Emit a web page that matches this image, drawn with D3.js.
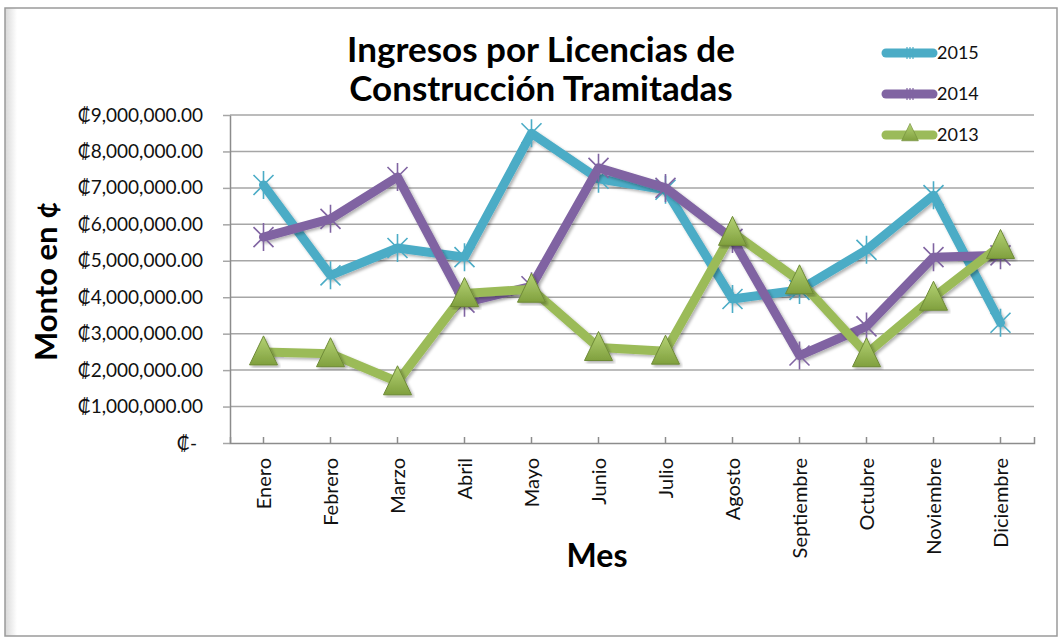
<!DOCTYPE html>
<html>
<head>
<meta charset="utf-8">
<script src="https://cdn.jsdelivr.net/npm/d3@7"></script>
<style>
  body { margin: 0; background: #fff; }
  svg { display: block; font-family: Lato, "Open Sans", sans-serif; }
</style>
</head>
<body>
<svg id="svg" width="1061" height="640"></svg>
<script>
const months = ['Enero', 'Febrero', 'Marzo', 'Abril', 'Mayo', 'Junio', 'Julio', 'Agosto', 'Septiembre', 'Octubre', 'Noviembre', 'Diciembre']
const values2015 = [7080000, 4600000, 5350000, 5100000, 8500000, 7250000, 6950000, 3950000, 4200000, 5300000, 6800000, 3300000]
const values2014 = [5650000, 6150000, 7300000, 3850000, 4300000, 7550000, 7000000, 5600000, 2400000, 3200000, 5100000, 5150000]
const values2013 = [2500000, 2450000, 1680000, 4100000, 4220000, 2620000, 2520000, 5780000, 4450000, 2450000, 4000000, 5420000]
const yTicks = [0, 1000000, 2000000, 3000000, 4000000, 5000000, 6000000, 7000000, 8000000, 9000000]

const series = [
  { name: '2015', values: values2015, color: '#4bacc6', marker: 'star' },
  { name: '2014', values: values2014, color: '#8064a2', marker: 'star' },
  { name: '2013', values: values2013, color: '#9bbb59', marker: 'triangle' }
]

const svg = d3.select('#svg')
const plot = { left: 230, right: 1034, top: 115, bottom: 443 }

const defs = svg.append('defs')
const shadow = defs.append('filter').attr('id', 'shadow')
  .attr('x', '-10%').attr('y', '-10%').attr('width', '120%').attr('height', '120%')
shadow.append('feDropShadow')
  .attr('dx', 2).attr('dy', 2).attr('stdDeviation', 1.5)
  .attr('flood-color', '#000').attr('flood-opacity', 0.3)

const leftShade = defs.append('linearGradient').attr('id', 'leftShade')
leftShade.append('stop').attr('offset', '0%').attr('stop-color', '#d8d8d8')
leftShade.append('stop').attr('offset', '100%').attr('stop-color', '#ffffff')

const triFill = defs.append('linearGradient').attr('id', 'triFill')
  .attr('x1', 0).attr('y1', 0).attr('x2', 0).attr('y2', 1)
triFill.append('stop').attr('offset', '0%').attr('stop-color', '#b4d274')
triFill.append('stop').attr('offset', '100%').attr('stop-color', '#80a03e')

// chart frame
svg.append('rect')
  .attr('x', 5).attr('y', 8).attr('width', 12).attr('height', 628)
  .attr('fill', 'url(#leftShade)')
svg.append('rect')
  .attr('x', 5).attr('y', 8).attr('width', 1052).attr('height', 628)
  .attr('fill', 'none').attr('stroke', '#9a9a9a').attr('stroke-width', 1.5)

const xScale = d3.scaleBand()
  .domain(months)
  .range([plot.left, plot.right])

const yScale = d3.scaleLinear()
  .domain([0, 9000000])
  .range([plot.bottom, plot.top])

// gridlines
svg.append('g')
  .selectAll('line')
  .data(yTicks.slice(1))
  .enter()
  .append('line')
  .attr('x1', plot.left)
  .attr('x2', plot.right)
  .attr('y1', d => yScale(d))
  .attr('y2', d => yScale(d))
  .attr('stroke', '#a6a6a6')
  .attr('stroke-width', 1.5)

const tickFormat = d => d === 0 ? '₡-' : '₡' + d3.format(',.2f')(d)

const leftAxis = d3.axisLeft(yScale)
  .tickValues(yTicks)
  .tickFormat(tickFormat)
  .tickSizeInner(7)
  .tickSizeOuter(0)
  .tickPadding(20)

const yAxisG = svg.append('g')
  .attr('transform', `translate(${plot.left}, 0)`)
  .call(leftAxis)
yAxisG.select('.domain').attr('stroke', '#8c8c8c').attr('stroke-width', 1.5)
yAxisG.selectAll('.tick line').attr('stroke', '#a6a6a6').attr('stroke-width', 1.5)
yAxisG.selectAll('.tick text')
  .attr('font-family', 'Lato, sans-serif')
  .attr('font-size', 19)
  .attr('fill', '#111')
  .attr('dx', d => d === 0 ? -6 : 0)

const bottomAxis = d3.axisBottom(xScale)
  .tickSizeInner(-6)
  .tickSizeOuter(-6)
  .tickPadding(0)
  .tickFormat('')

const xAxisG = svg.append('g')
  .attr('transform', `translate(0, ${plot.bottom})`)
  .call(bottomAxis)
xAxisG.select('.domain').attr('stroke', '#8c8c8c').attr('stroke-width', 1.5)
xAxisG.selectAll('.tick line').attr('stroke', '#8c8c8c').attr('stroke-width', 1.5)

// rotated month labels
svg.append('g')
  .selectAll('text')
  .data(months)
  .enter()
  .append('text')
  .attr('transform', d => `translate(${xScale(d) + xScale.bandwidth() / 2 + 7}, 458) rotate(-90)`)
  .attr('text-anchor', 'end')
  .attr('font-size', 20)
  .attr('fill', '#111')
  .text(d => d)

// series lines
const line = d3.line()
  .x((d, i) => xScale(months[i]) + xScale.bandwidth() / 2)
  .y(d => yScale(d))

const starPath = 'M-10,-10L10,10M-10,10L10,-10M0,-14L0,14'
const triPath = 'M0,-16L14,13L-14,13Z'

series.forEach(s => {
  const g = svg.append('g')
  g.append('path')
    .datum(s.values)
    .attr('d', line)
    .attr('fill', 'none')
    .attr('stroke', s.color)
    .attr('stroke-width', 9)
    .attr('stroke-linejoin', 'round')
    .attr('stroke-linecap', 'round')
    .attr('filter', 'url(#shadow)')

  g.selectAll('.marker')
    .data(s.values)
    .enter()
    .append('path')
    .attr('class', 'marker')
    .attr('transform', (d, i) => `translate(${xScale(months[i]) + xScale.bandwidth() / 2}, ${yScale(d)})`)
    .attr('d', s.marker === 'star' ? starPath : triPath)
    .attr('fill', s.marker === 'star' ? 'none' : 'url(#triFill)')
    .attr('stroke', s.marker === 'star' ? s.color : '#6e8a37')
    .attr('stroke-width', s.marker === 'star' ? 1.6 : 1)
    .attr('filter', s.marker === 'star' ? null : 'url(#shadow)')
})

// legend
const legend = svg.append('g')
series.forEach((s, i) => {
  const ly = 53 + i * 41
  legend.append('line')
    .attr('x1', 886).attr('x2', 933)
    .attr('y1', ly).attr('y2', ly)
    .attr('stroke', s.color)
    .attr('stroke-width', 9)
    .attr('stroke-linecap', 'round')
  if (s.marker === 'star') {
    legend.append('path')
      .attr('transform', `translate(910, ${ly})`)
      .attr('d', 'M-3,-6L-3,6M3,-6L3,6M0,-6L0,6')
      .attr('stroke', s.color)
      .attr('stroke-width', 1.2)
  } else {
    legend.append('path')
      .attr('transform', `translate(910, ${ly - 2}) scale(0.6)`)
      .attr('d', triPath)
      .attr('fill', 'url(#triFill)')
      .attr('stroke', '#6e8a37')
  }
  legend.append('text')
    .attr('x', 937)
    .attr('y', ly + 6)
    .attr('font-size', 18)
    .attr('fill', '#111')
    .text(s.name)
})

// titles
const title = svg.append('g')
title.append('text')
  .attr('x', 541).attr('y', 62)
  .attr('text-anchor', 'middle')
  .attr('font-size', 35)
  .attr('font-weight', 'bold')
  .text('Ingresos por Licencias de')
title.append('text')
  .attr('x', 541).attr('y', 101)
  .attr('text-anchor', 'middle')
  .attr('font-size', 35)
  .attr('font-weight', 'bold')
  .text('Construcción Tramitadas')

svg.append('text')
  .attr('transform', 'translate(57, 281) rotate(-90)')
  .attr('text-anchor', 'middle')
  .attr('font-size', 31)
  .attr('font-weight', 'bold')
  .text('Monto en ¢')

svg.append('text')
  .attr('x', 597).attr('y', 567)
  .attr('text-anchor', 'middle')
  .attr('font-size', 32)
  .attr('font-weight', 'bold')
  .text('Mes')
</script>
</body>
</html>
